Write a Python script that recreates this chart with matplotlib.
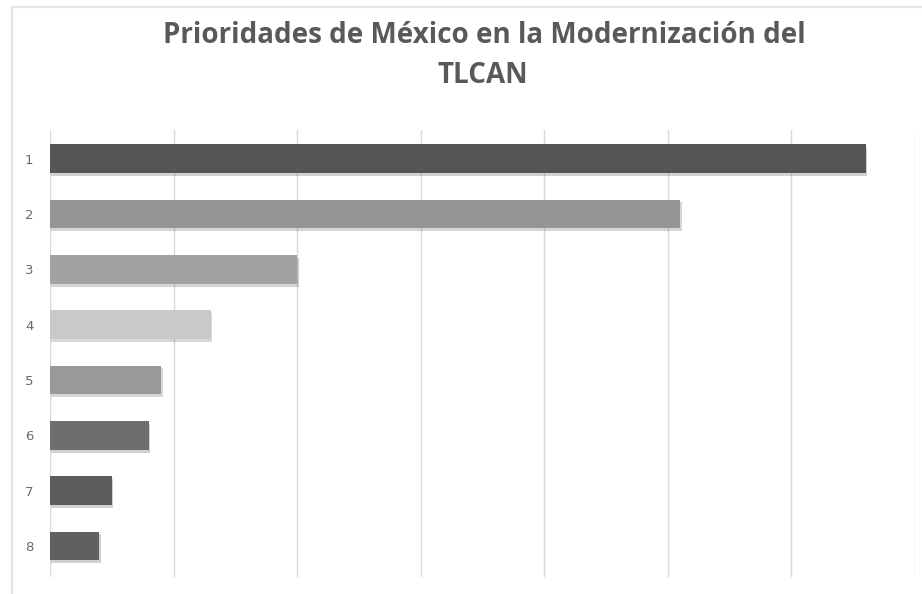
import matplotlib.pyplot as plt
import matplotlib.patheffects as pe
from matplotlib.patches import Rectangle

# data (gridline step = 10)
categories = ['1', '2', '3', '4', '5', '6', '7', '8']
values = [66, 51, 20, 13, 9, 8, 5, 4]
colors = ['#555555', '#959595', '#a2a2a2', '#c9c9c9', '#999999', '#6e6e6e', '#5c5c5c', '#606060']

fig = plt.figure(figsize=(9.22, 5.94), dpi=100)
ax = fig.add_axes([50 / 922, 1 - 577 / 594, 865 / 922, 447 / 594])

pos = list(range(len(categories)))
bars = ax.barh(pos, values, height=0.52, color=colors, zorder=3)
for b in bars:
    b.set_path_effects([pe.SimplePatchShadow(offset=(1, -2), alpha=0.2), pe.Normal()])

ax.set_yticks(pos)
ax.set_yticklabels(categories)
ax.set_ylim(len(categories) - 0.44, -0.52)
ax.set_xlim(0, 70)
ax.set_xticks(range(0, 71, 10))
ax.set_xticklabels([])
ax.grid(axis='x', color='#d9d9d9', linewidth=1, zorder=0)
ax.tick_params(axis='both', length=0)
ax.tick_params(axis='y', pad=12, labelsize=9.5, labelcolor='#6a6a6a')
for s in ax.spines.values():
    s.set_visible(False)

fig.text(484 / 922, 1 - 43 / 594, 'Prioridades de México en la Modernización del',
         ha='center', va='baseline', fontsize=20, color='#595959', family='Open Sans',
         fontweight='bold')
fig.text(483 / 922, 1 - 83 / 594, 'TLCAN',
         ha='center', va='baseline', fontsize=20, color='#595959', family='Open Sans',
         fontweight='bold')

# light outer chart frame
fig.patches.append(Rectangle((12 / 922, -0.05), 1.1, 1 - 7 / 594 + 0.05,
                             transform=fig.transFigure, fill=False,
                             edgecolor='#e3e3e3', linewidth=1.5))

fig.savefig('out.png', dpi=100)
